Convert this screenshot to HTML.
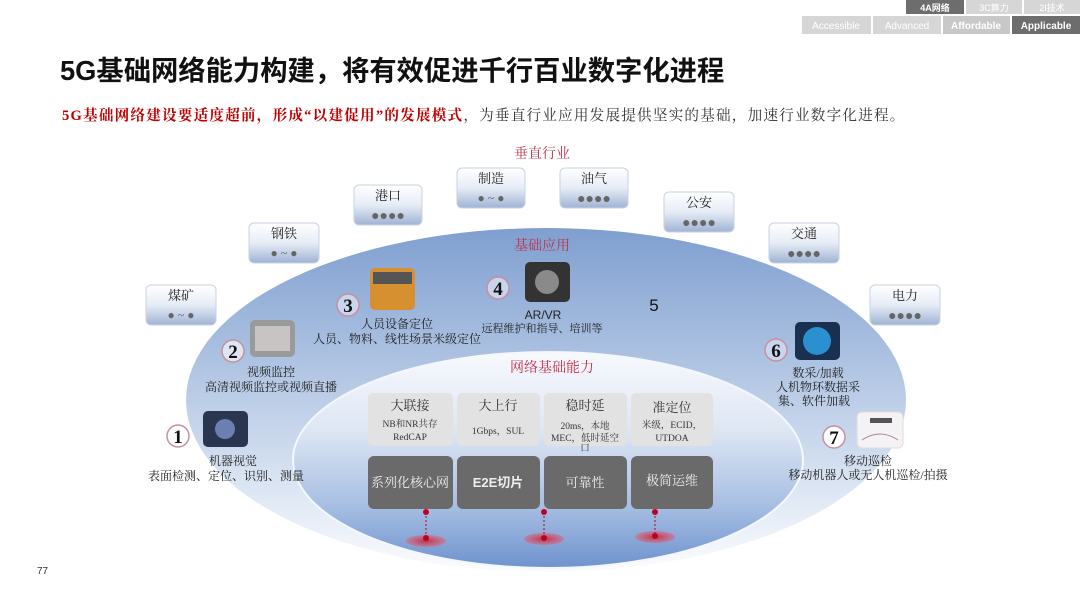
<!DOCTYPE html>
<html><head><meta charset="utf-8"><style>
html,body{margin:0;padding:0;background:#fff;width:1080px;height:608px;overflow:hidden}
svg text{font-family:"Liberation Serif","Noto Serif CJK SC",serif}
.s{font-family:"Liberation Sans","Noto Sans CJK SC",sans-serif}
</style></head><body>
<svg width="1080" height="608" viewBox="0 0 1080 608" xmlns="http://www.w3.org/2000/svg">
<defs>
<linearGradient id="og" x1="0" y1="0" x2="0" y2="1">
<stop offset="0" stop-color="#7f9fd0"/><stop offset="0.35" stop-color="#a9bfe0"/><stop offset="0.75" stop-color="#dbe5f3"/><stop offset="1" stop-color="#fbfcfe"/></linearGradient>
<linearGradient id="ig" x1="0" y1="0" x2="0" y2="1">
<stop offset="0" stop-color="#f7f9fd"/><stop offset="0.35" stop-color="#dfe7f4"/><stop offset="0.7" stop-color="#a9c0e3"/><stop offset="1" stop-color="#6f93cf"/></linearGradient>
<linearGradient id="bg" x1="0" y1="0" x2="0" y2="1">
<stop offset="0" stop-color="#ffffff"/><stop offset="0.5" stop-color="#e6ecf6"/><stop offset="1" stop-color="#9fb3d4"/></linearGradient>
<radialGradient id="pin"><stop offset="0" stop-color="#c0304a"/><stop offset="1" stop-color="#d46a80" stop-opacity="0.6"/></radialGradient>
</defs>
<rect x="906" y="0" width="58" height="14" fill="#6d6d6d"/><text x="935" y="11" font-size="9" fill="#fff" text-anchor="middle" class="s" font-weight="bold">4A网络</text>
<rect x="966" y="0" width="56" height="14" fill="#d6d6d6"/><text x="994" y="11" font-size="9" fill="#fff" text-anchor="middle" class="s">3C算力</text>
<rect x="1024" y="0" width="56" height="14" fill="#d6d6d6"/><text x="1052" y="11" font-size="9" fill="#fff" text-anchor="middle" class="s">2I技术</text>
<rect x="802" y="16" width="69" height="18" fill="#d6d6d6"/><text x="836" y="29" font-size="10" fill="#fff" text-anchor="middle" class="s">Accessible</text>
<rect x="873" y="16" width="68" height="18" fill="#d6d6d6"/><text x="907" y="29" font-size="10" fill="#fff" text-anchor="middle" class="s">Advanced</text>
<rect x="943" y="16" width="67" height="18" fill="#c8c8c8"/><text x="976" y="29" font-size="10" fill="#fff" text-anchor="middle" class="s" font-weight="bold">Affordable</text>
<rect x="1012" y="16" width="68" height="18" fill="#6d6d6d"/><text x="1046" y="29" font-size="10" fill="#fff" text-anchor="middle" class="s" font-weight="bold">Applicable</text>
<text x="60" y="80" font-size="27.3" font-weight="bold" class="s" fill="#111">5G基础网络能力构建，将有效促进千行百业数字化进程</text>
<text x="62" y="120" font-size="14.6" letter-spacing="1.2" fill="#333"><tspan fill="#c00000" font-weight="bold">5G基础网络建设要适度超前，形成“以建促用”的发展模式</tspan>，为垂直行业应用发展提供坚实的基础，加速行业数字化进程。</text>
<text x="542" y="158" font-size="14" fill="#c0304a" text-anchor="middle">垂直行业</text>
<ellipse cx="546" cy="400" rx="360" ry="172" fill="url(#og)"/>
<ellipse cx="548" cy="460" rx="255" ry="108" fill="url(#ig)" stroke="#f4f7fc" stroke-width="2"/>
<text x="542" y="250" font-size="14" fill="#c0304a" text-anchor="middle">基础应用</text>
<text x="552" y="372" font-size="14" fill="#c0304a" text-anchor="middle">网络基础能力</text>
<text x="654" y="311" font-size="17" fill="#111" text-anchor="middle" class="s">5</text>
<g font-size="13" fill="#222" text-anchor="middle">
<g transform="translate(146,285)"><rect width="70" height="40" rx="5" fill="url(#bg)" stroke="#c8d2e2"/><text x="35" y="15">煤矿</text><text x="35" y="34" font-size="12" fill="#666">● ~ ●</text></g>
<g transform="translate(249,223)"><rect width="70" height="40" rx="5" fill="url(#bg)" stroke="#c8d2e2"/><text x="35" y="15">钢铁</text><text x="35" y="34" font-size="12" fill="#666">● ~ ●</text></g>
<g transform="translate(354,185)"><rect width="68" height="40" rx="5" fill="url(#bg)" stroke="#c8d2e2"/><text x="34" y="15">港口</text><text x="34" y="35" font-size="14" fill="#666">●●●●</text></g>
<g transform="translate(457,168)"><rect width="68" height="40" rx="5" fill="url(#bg)" stroke="#c8d2e2"/><text x="34" y="15">制造</text><text x="34" y="34" font-size="12" fill="#666">● ~ ●</text></g>
<g transform="translate(560,168)"><rect width="68" height="40" rx="5" fill="url(#bg)" stroke="#c8d2e2"/><text x="34" y="15">油气</text><text x="34" y="35" font-size="14" fill="#666">●●●●</text></g>
<g transform="translate(664,192)"><rect width="70" height="40" rx="5" fill="url(#bg)" stroke="#c8d2e2"/><text x="35" y="15">公安</text><text x="35" y="35" font-size="14" fill="#666">●●●●</text></g>
<g transform="translate(769,223)"><rect width="70" height="40" rx="5" fill="url(#bg)" stroke="#c8d2e2"/><text x="35" y="15">交通</text><text x="35" y="35" font-size="14" fill="#666">●●●●</text></g>
<g transform="translate(870,285)"><rect width="70" height="40" rx="5" fill="url(#bg)" stroke="#c8d2e2"/><text x="35" y="15">电力</text><text x="35" y="35" font-size="14" fill="#666">●●●●</text></g>
</g>
<rect x="203" y="411" width="45" height="36" rx="5" fill="#2a3550"/><circle cx="225" cy="429" r="10" fill="#6b7fb0"/>
<rect x="250" y="320" width="45" height="37" rx="5" fill="#9a9a9a"/><rect x="255" y="326" width="35" height="25" fill="#c8c4c4"/>
<rect x="370" y="268" width="45" height="42" rx="5" fill="#d79030"/><rect x="373" y="272" width="39" height="12" fill="#555"/>
<rect x="525" y="262" width="45" height="40" rx="5" fill="#333"/><circle cx="547" cy="282" r="12" fill="#8a8a8a"/>
<rect x="795" y="322" width="45" height="38" rx="5" fill="#1a3050"/><circle cx="817" cy="341" r="14" fill="#2a90d0"/>
<rect x="857" y="412" width="46" height="36" rx="5" fill="#f4f2f4" stroke="#ddd"/><path d="M862 440 Q880 428 898 440" stroke="#b08090" fill="none"/><rect x="870" y="418" width="22" height="5" fill="#555"/>
<g font-size="19" class="s" font-weight="bold" fill="#111" text-anchor="middle">
<circle cx="178" cy="436" r="11" fill="#fff" stroke="#c6909e" stroke-width="1.5"/><text x="178" y="443">1</text>
<circle cx="233" cy="351" r="11" fill="#dfe6f3" stroke="#c6909e" stroke-width="1.5"/><text x="233" y="358">2</text>
<circle cx="348" cy="305" r="11" fill="#c8d5ec" stroke="#c6909e" stroke-width="1.5"/><text x="348" y="312">3</text>
<circle cx="498" cy="288" r="11" fill="#c8d5ec" stroke="#c6909e" stroke-width="1.5"/><text x="498" y="295">4</text>
<circle cx="776" cy="350" r="11" fill="#c8d5ec" stroke="#c6909e" stroke-width="1.5"/><text x="776" y="357">6</text>
<circle cx="834" cy="437" r="11" fill="#fff" stroke="#c6909e" stroke-width="1.5"/><text x="834" y="444">7</text>
</g>
<g font-size="12" fill="#222" text-anchor="middle">
<text x="233" y="465">机器视觉</text><text x="226" y="480">表面检测、定位、识别、测量</text>
<text x="271" y="376">视频监控</text><text x="271" y="391">高清视频监控或视频直播</text>
<text x="397" y="328">人员设备定位</text><text x="397" y="343">人员、物料、线性场景米级定位</text>
<text x="543" y="319" class="s">AR/VR</text><text x="542" y="332" font-size="11">远程维护和指导、培训等</text>
<text x="818" y="377">数采/加载</text><text x="818" y="391">人机物环数据采</text><text x="814" y="405">集、软件加载</text>
<text x="868" y="465">移动巡检</text><text x="868" y="479">移动机器人或无人机巡检/拍摄</text>
</g>
<g text-anchor="middle">
<rect x="368" y="393" width="85" height="53" rx="5" fill="#e2e2e2"/>
<rect x="457" y="393" width="83" height="53" rx="5" fill="#e2e2e2"/>
<rect x="544" y="393" width="83" height="53" rx="5" fill="#e2e2e2"/>
<rect x="631" y="393" width="82" height="53" rx="5" fill="#e2e2e2"/>
<g font-size="13" fill="#333"><text x="410" y="410">大联接</text><text x="498" y="410">大上行</text><text x="585" y="410">稳时延</text><text x="672" y="412">准定位</text></g>
<g font-size="9.5" fill="#333" class="s"><text x="410" y="427">NB和NR共存</text><text x="410" y="440">RedCAP</text>
<text x="498" y="434">1Gbps，SUL</text>
<text x="585" y="429">20ms，本地</text><text x="585" y="441">MEC，低时延空</text><text x="585" y="451">口</text>
<text x="672" y="428">米级，ECID，</text><text x="672" y="441">UTDOA</text></g>
<rect x="368" y="456" width="85" height="53" rx="6" fill="#6a6a6a"/>
<rect x="457" y="456" width="83" height="53" rx="6" fill="#6a6a6a"/>
<rect x="544" y="456" width="83" height="53" rx="6" fill="#6a6a6a"/>
<rect x="631" y="456" width="82" height="53" rx="6" fill="#6a6a6a"/>
<g font-size="13" fill="#eee"><text x="410" y="487">系列化核心网</text><text x="498" y="487" class="s" font-weight="bold">E2E切片</text><text x="585" y="487">可靠性</text><text x="672" y="485">极简运维</text></g>
</g>
<g>
<ellipse cx="426" cy="541" rx="20" ry="6" fill="url(#pin)"/><line x1="426" y1="512" x2="426" y2="538" stroke="#c00020" stroke-dasharray="2,2"/><circle cx="426" cy="512" r="3" fill="#c00020"/><circle cx="426" cy="538" r="3" fill="#c00020"/>
<ellipse cx="544" cy="539" rx="20" ry="6" fill="url(#pin)"/><line x1="544" y1="512" x2="544" y2="538" stroke="#c00020" stroke-dasharray="2,2"/><circle cx="544" cy="512" r="3" fill="#c00020"/><circle cx="544" cy="538" r="3" fill="#c00020"/>
<ellipse cx="655" cy="537" rx="20" ry="6" fill="url(#pin)"/><line x1="655" y1="512" x2="655" y2="536" stroke="#c00020" stroke-dasharray="2,2"/><circle cx="655" cy="512" r="3" fill="#c00020"/><circle cx="655" cy="536" r="3" fill="#c00020"/>
</g>
<text x="37" y="574" font-size="10" fill="#333" class="s">77</text>
</svg>
</body></html>
